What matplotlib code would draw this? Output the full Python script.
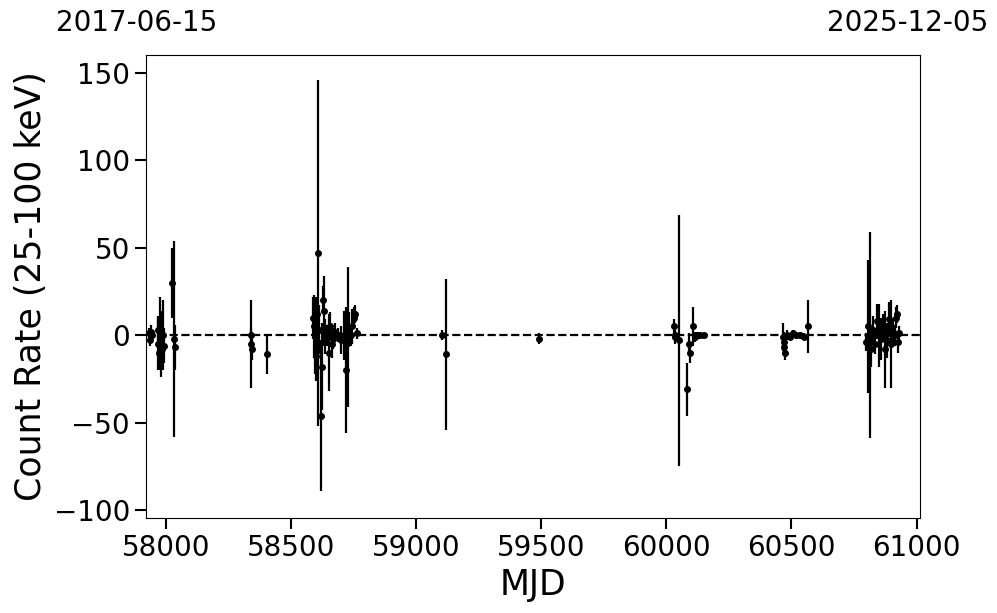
import matplotlib
matplotlib.use("Agg")
import matplotlib.pyplot as plt
import numpy as np

# light curve points
mjd = [57930, 57934, 57938, 57944,
       57966, 57969, 57972, 57975, 57978, 57981, 57984, 57987, 57990,
       58025, 58030, 58036,
       58338, 58340, 58342, 58404,
       58586, 58590, 58594, 58598, 58602, 58608, 58612, 58620,
       58624, 58628, 58632, 58636, 58642, 58650, 58656, 58662, 58668,
       58676, 58686, 58700, 58712, 58720, 58726, 58732, 58738, 58744, 58750, 58756, 58762,
       59104, 59120,
       59492,
       60030, 60033, 60036, 60052, 60084, 60090, 60096, 60108, 60114, 60124, 60136, 60150,
       60468, 60470, 60472, 60476, 60484, 60496, 60508, 60520, 60536, 60552, 60568,
       60796, 60806, 60812, 60818, 60826, 60834, 60840, 60848, 60856, 60864, 60872,
       60880, 60888, 60896, 60904, 60912, 60918, 60922, 60926, 60930]
rate = [1, -3, 2, 0,
        3, -5, -10, 5, -12, 2, -8, 0, -6,
        30, -2, -7,
        0, -5, -8, -11,
        10, 5, 0, -12, 12, 47, 3, -46,
        -18, 20, 14, -1, 0, -10, 5, -5, -2,
        2, 0, -3, 0, -20, -1, 3, 0, 5, 10, 12, 1,
        0, -11,
        -2,
        5, 0, -1, -3, -31, -5, -10, 5, -1, 0, 0, 0,
        -1, -4, -7, -10, 0, -1, 1, 0, 0, -1, 5,
        -4, 5, 0, -8, 3, -5, 8, 0, -2, 4, -8,
        -3, 9, -5, 2, 0, 10, 12, -4, 1]
err = [3, 3, 4, 3,
       8, 15, 10, 17, 12, 12, 8, 20, 10,
       20, 56, 13,
       4, 25, 6, 11,
       12, 18, 22, 14, 10, 99, 14, 43,
       25, 8, 20, 10, 6, 22, 8, 8, 6,
       5, 4, 8, 14, 36, 40, 10, 6, 10, 6, 5, 3,
       3, 43,
       3,
       4, 3, 4, 72, 15, 6, 6, 11, 3, 2, 2, 2,
       8, 6, 5, 4, 3, 2, 2, 2, 2, 2, 15,
       5, 38, 59, 10, 8, 6, 10, 18, 12, 8, 22,
       10, 10, 25, 8, 6, 6, 5, 6, 4]

date_left = "2017-06-15"
date_right = "2025-12-05"
mjd_min, mjd_max = 57919, 61014

fig = plt.figure(figsize=(9.97, 6.13), dpi=100)
ax = fig.add_axes([0.1464, 0.155, 0.7764, 0.7553])

ax.errorbar(mjd, rate, yerr=err, fmt='o', color='black', ms=4,
            elinewidth=1.6, capsize=0)
ax.axhline(0, color='black', ls='--', lw=1.6)

ax.set_xlim(mjd_min, mjd_max)
ax.set_ylim(-104.6, 160.3)
ax.set_xticks([58000, 58500, 59000, 59500, 60000, 60500, 61000])
ax.set_yticks([-100, -50, 0, 50, 100, 150])
ax.tick_params(axis='both', labelsize=20, length=8, width=1.5)

ax.set_xlabel("MJD", fontsize=25)
ax.set_ylabel("Count Rate (25-100 keV)", fontsize=25)

fig.text(0.137, 0.963, date_left, fontsize=20, ha='center', va='center')
fig.text(0.91, 0.963, date_right, fontsize=20, ha='center', va='center')

fig.savefig("out.png", dpi=100)
